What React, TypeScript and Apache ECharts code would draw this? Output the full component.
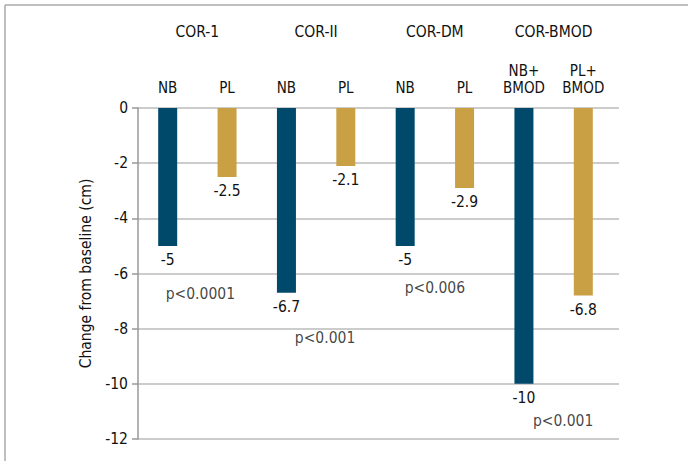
import React, { useEffect, useRef } from "react";
import * as echarts from "echarts";

const categories = ["NB", "PL", "NB", "PL", "NB", "PL", "NB+\nBMOD", "PL+\nBMOD"];
const groups = ["COR-1", "COR-II", "COR-DM", "COR-BMOD"];
const values = [-5, -2.5, -6.7, -2.1, -5, -2.9, -10, -6.8];
const treatment = ["NB", "PL", "NB", "PL", "NB", "PL", "NB", "PL"];
const pLabels = ["p<0.0001", "p<0.001", "p<0.006", "p<0.001"];
const pX = [1.05, 3.15, 5.0, 7.16];
const pY = [-6.74, -8.33, -6.52, -11.36];
const yMin = -12;
const yMax = 0;
const yStep = 2;

const NB_COLOR = "#00496B";
const PL_COLOR = "#C9A144";
const FONT = "'Liberation Sans Narrow', 'DejaVu Sans Condensed', 'Liberation Sans', sans-serif";
const TEXT = "#111111";

export default function App() {
  const ref = useRef<HTMLDivElement>(null);
  useEffect(() => {
    if (!ref.current) return;
    const chart = echarts.init(ref.current, undefined, { renderer: "svg" });
    const textStyle = { fontFamily: FONT, fontSize: 15.5, color: TEXT };
    chart.setOption({
      animation: false,
      backgroundColor: "#ffffff",
      textStyle: { fontFamily: FONT },
      graphic: [
        { type: "line", shape: { x1: 5, y1: 5, x2: 688, y2: 5 }, style: { stroke: "#aaaaaa", lineWidth: 1.5 } },
        { type: "line", shape: { x1: 5, y1: 5, x2: 5, y2: 461 }, style: { stroke: "#aaaaaa", lineWidth: 1.5 } },
      ],
      grid: [
        { left: 138, top: 108, width: 475, height: 331 },
        { left: 138, top: 108, width: 481, height: 331 },
      ],
      xAxis: [
        {
          type: "category",
          gridIndex: 0,
          position: "top",
          data: categories,
          axisLine: { show: false },
          axisTick: { show: false },
          axisLabel: { ...textStyle, fontSize: 15, margin: 12, lineHeight: 17, interval: 0 },
        },
        {
          type: "category",
          gridIndex: 0,
          position: "top",
          data: groups,
          axisLine: { show: false },
          axisTick: { show: false },
          axisLabel: { ...textStyle, margin: 68, interval: 0 },
        },
        { type: "value", gridIndex: 0, min: 0, max: 8, show: false },
        { type: "value", gridIndex: 1, min: 0, max: 1, show: false },
      ],
      yAxis: [
        { type: "value", gridIndex: 0, min: yMin, max: yMax, show: false },
        {
          type: "value",
          gridIndex: 1,
          min: yMin,
          max: yMax,
          interval: yStep,
          name: "Change from baseline (cm)",
          nameLocation: "middle",
          nameGap: 43,
          nameTextStyle: { ...textStyle },
          axisLine: { show: true, lineStyle: { color: "#999999", width: 1.5 } },
          axisTick: { show: true, length: 6, lineStyle: { color: "#999999", width: 1.5 } },
          axisLabel: { ...textStyle, margin: 10 },
          splitLine: { show: true, lineStyle: { color: "#bbbbbb", width: 1.5 } },
        },
      ],
      series: [
        {
          type: "bar",
          xAxisIndex: 0,
          yAxisIndex: 0,
          barWidth: 19,
          data: values.map((v, i) => ({
            value: v,
            itemStyle: { color: treatment[i] === "NB" ? NB_COLOR : PL_COLOR },
          })),
          label: {
            show: true,
            position: "bottom",
            distance: 6,
            ...textStyle,
            formatter: (p: any) => String(p.value),
          },
        },
        {
          type: "scatter",
          xAxisIndex: 2,
          yAxisIndex: 0,
          symbolSize: 0,
          data: pX.map((x, i) => [x, pY[i]]),
          label: {
            show: true,
            position: "inside",
            ...textStyle,
            formatter: (p: any) => pLabels[p.dataIndex],
          },
        },
      ],
    });
    return () => chart.dispose();
  }, []);
  return (
    <div style={{ position: "fixed", left: 0, top: 0, width: 688, height: 461, background: "#fff" }}>
      <div ref={ref} style={{ width: 688, height: 461 }} />
    </div>
  );
}
